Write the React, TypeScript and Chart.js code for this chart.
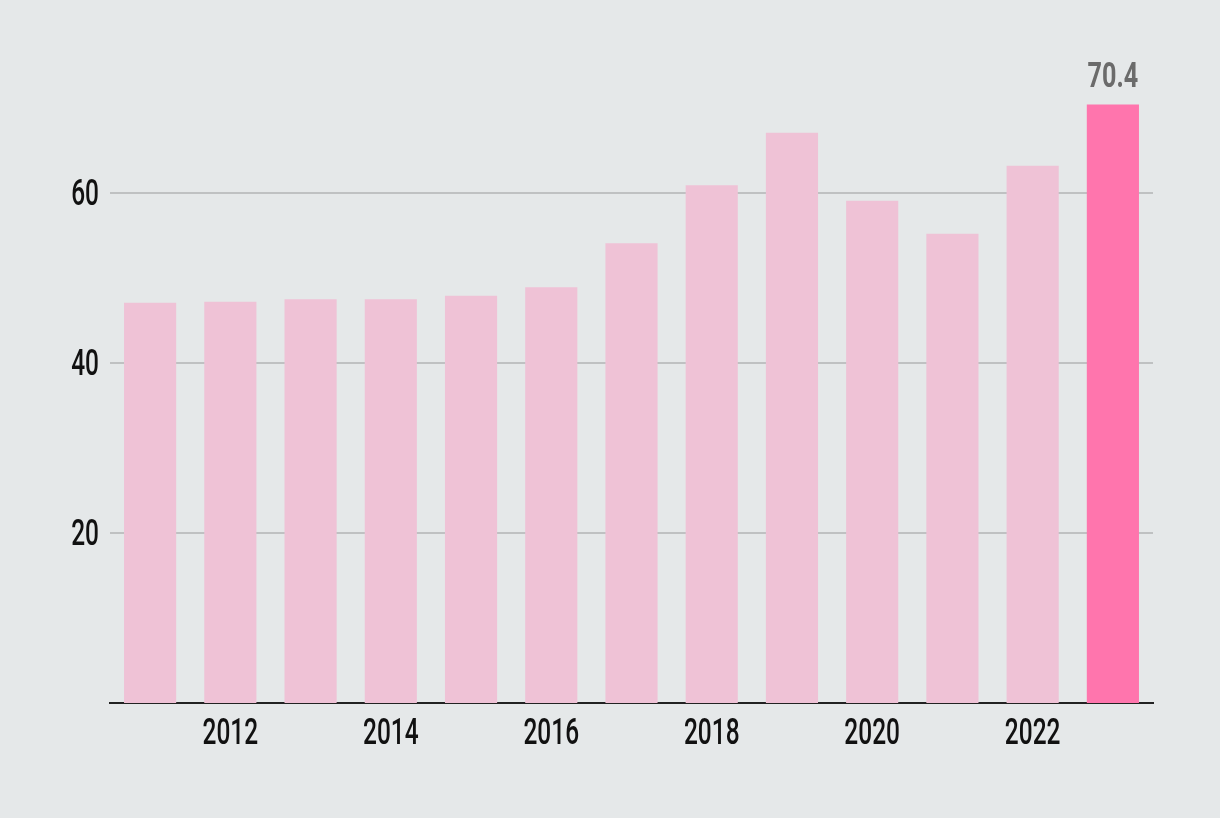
import React, { useEffect, useRef } from "react";
import { Chart, registerables } from "chart.js";

Chart.register(...registerables);

const years = ["2011", "2012", "2013", "2014", "2015", "2016", "2017", "2018", "2019", "2020", "2021", "2022", "2023"];
const values = [47.1, 47.2, 47.5, 47.5, 47.9, 48.9, 54.1, 60.9, 67.1, 59.1, 55.2, 63.2, 70.4];
const yTicks = [20, 40, 60];

const BG = "#e5e8e9";
const BAR = "#efc2d6";
const HIGHLIGHT = "#ff75ad";
const FONT = "Roboto, 'DejaVu Sans Condensed', sans-serif";
const SX = 0.68;

function drawText(ctx: CanvasRenderingContext2D, text: string, x: number, y: number, align: CanvasTextAlign, font: string, sx: number, color: string) {
  ctx.save();
  ctx.translate(x, y);
  ctx.scale(sx, 1);
  ctx.font = font;
  ctx.fillStyle = color;
  ctx.textAlign = align;
  ctx.textBaseline = "alphabetic";
  ctx.fillText(text, 0, 0);
  ctx.restore();
}

export default function App() {
  const ref = useRef<HTMLCanvasElement | null>(null);

  useEffect(() => {
    if (!ref.current) return;
    const lastIdx = values.length - 1;
    const textPlugin = {
      id: "condensedText",
      afterDraw(chart: any) {
        const ctx = chart.ctx as CanvasRenderingContext2D;
        const xs = chart.scales.x;
        const ys = chart.scales.y;
        const area = chart.chartArea;
        yTicks.forEach((v) => {
          const y = ys.getPixelForValue(v);
          drawText(ctx, String(v), area.left - 11, y + 12, "right", `500 36px ${FONT}`, SX, "#111111");
        });
        years.forEach((lab, i) => {
          if (i % 2 !== 1) return;
          const x = xs.getPixelForValue(i);
          drawText(ctx, lab, x, area.bottom + 41, "center", `500 36px ${FONT}`, SX, "#111111");
        });
        const el = chart.getDatasetMeta(0).data[lastIdx];
        if (el) {
          drawText(ctx, values[lastIdx].toFixed(1), el.x, el.y - 18, "center", `700 35px ${FONT}`, 0.72, "#6b6b6b");
        }
      },
    };
    const chart = new Chart(ref.current, {
      type: "bar",
      data: {
        labels: years,
        datasets: [
          {
            data: values,
            backgroundColor: values.map((_, i) => (i === lastIdx ? HIGHLIGHT : BAR)),
            barPercentage: 0.65,
            categoryPercentage: 1,
            borderWidth: 0,
          },
        ],
      },
      options: {
        animation: false,
        responsive: false,
        maintainAspectRatio: false,
        layout: { padding: { top: 23, right: 67, bottom: 0, left: 0 } },
        plugins: { legend: { display: false }, tooltip: { enabled: false } },
        scales: {
          x: {
            grid: { display: false, drawTicks: false },
            border: { display: true, color: "#222222", width: 2 },
            ticks: {
              autoSkip: false,
              maxRotation: 0,
              color: "rgba(0,0,0,0)",
              font: { family: FONT, size: 20 },
            },
            afterFit: (s: any) => {
              s.height = 115;
            },
          },
          y: {
            min: 0,
            max: 80,
            afterBuildTicks: (s: any) => {
              s.ticks = yTicks.map((v) => ({ value: v }));
            },
            grid: { color: "#bfc1c2", lineWidth: 2, drawTicks: false },
            border: { display: false },
            ticks: {
              color: "rgba(0,0,0,0)",
              font: { family: FONT, size: 20 },
            },
            afterFit: (s: any) => {
              s.width = 110;
            },
          },
        },
      },
      plugins: [textPlugin],
    });
    return () => chart.destroy();
  }, []);

  return (
    <div style={{ position: "fixed", left: 0, top: 0, width: 1220, height: 818, background: BG }}>
      <canvas ref={ref} width={1220} height={818} style={{ width: 1220, height: 818, display: "block" }} />
    </div>
  );
}
